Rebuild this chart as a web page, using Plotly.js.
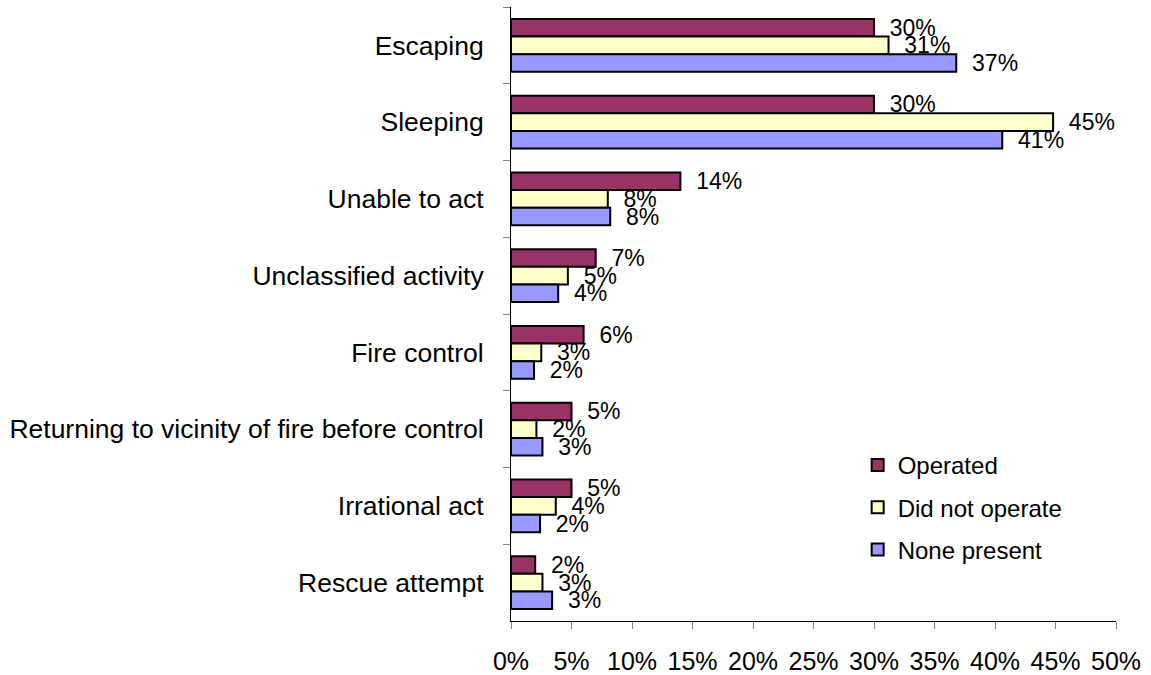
<!DOCTYPE html>
<html>
<head>
<meta charset="utf-8">
<script src="https://cdn.plot.ly/plotly-3.0.1.min.js"></script>
<style>html,body{margin:0;padding:0;background:#fff;}#chart{width:1151px;height:675px;}</style>
</head>
<body>
<div id="chart"></div>
<script>
const categories = ["Escaping", "Sleeping", "Unable to act", "Unclassified activity", "Fire control",
  "Returning to vicinity of fire before control", "Irrational act", "Rescue attempt"];
const seriesNames = ["Operated", "Did not operate", "None present"];
const operated      = [0.300, 0.300, 0.140, 0.070, 0.060, 0.050, 0.050, 0.020];
const didNotOperate = [0.312, 0.448, 0.080, 0.047, 0.025, 0.021, 0.037, 0.026];
const nonePresent   = [0.368, 0.406, 0.082, 0.039, 0.019, 0.026, 0.024, 0.034];
const xTickValues = [0, 0.05, 0.10, 0.15, 0.20, 0.25, 0.30, 0.35, 0.40, 0.45, 0.50];

const colors = ["#993366", "#FFFFCC", "#9999FF"];
const seriesValues = [operated, didNotOperate, nonePresent];
const FONT = "Arial, 'Liberation Sans', sans-serif";

const traces = seriesValues.map((vals, i) => ({
  type: "bar",
  orientation: "h",
  name: seriesNames[i],
  x: vals,
  y: categories,
  legendgroup: "g" + i,
  marker: { color: colors[i], line: { color: "#000000", width: 2 } },
  texttemplate: "\u00a0\u00a0%{x:.0%}",
  textposition: "outside",
  constraintext: "none",
  cliponaxis: false,
  textfont: { family: FONT, size: 23, color: "#000000" },
  hoverinfo: "skip"
}));

const layout = {
  width: 1151,
  height: 675,
  margin: { l: 511, r: 35, t: 7, b: 54, pad: 0 },
  paper_bgcolor: "#ffffff",
  plot_bgcolor: "#ffffff",
  font: { family: FONT, size: 24, color: "#000000" },
  barmode: "group",
  bargap: 0.31,
  bargroupgap: 0,
  showlegend: true,
  legend: {
    x: 0.573, y: 0.29, xanchor: "left", yanchor: "top",
    traceorder: "grouped",
    tracegroupgap: 8,
    font: { family: FONT, size: 24, color: "#000000" },
    bgcolor: "rgba(0,0,0,0)"
  },
  xaxis: {
    range: [0, 0.5],
    tickvals: xTickValues,
    tickformat: ".0%",
    showgrid: false,
    zeroline: false,
    showline: true,
    linecolor: "#000000",
    linewidth: 1,
    ticks: "outside",
    ticklen: 7,
    tickcolor: "#808080",
    tickwidth: 1,
    ticklabelstandoff: 11,
    tickfont: { family: FONT, size: 25, color: "#000000" },
    fixedrange: true
  },
  yaxis: {
    type: "category",
    autorange: "reversed",
    showgrid: false,
    zeroline: false,
    showline: true,
    linecolor: "#000000",
    linewidth: 1,
    ticks: "outside",
    tickson: "boundaries",
    ticklen: 7,
    tickcolor: "#808080",
    tickwidth: 1,
    ticklabelstandoff: 21,
    tickfont: { family: FONT, size: 26.5, color: "#000000" },
    fixedrange: true
  }
};

Plotly.newPlot("chart", traces, layout, { displayModeBar: false, staticPlot: true });
</script>
</body>
</html>
